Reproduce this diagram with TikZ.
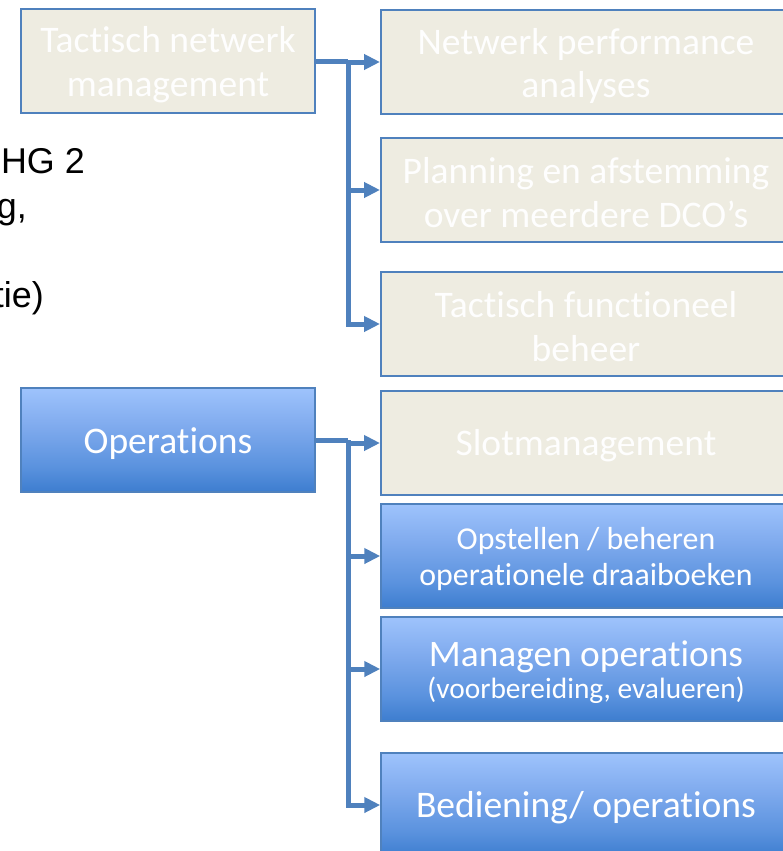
\documentclass[tikz,border=0pt]{standalone}
\usepackage{fontspec}
\setmainfont{Carlito}[RawFeature={-liga;-clig;-calt;-dlig}]
\newfontfamily\notefont{Liberation Sans}
\usetikzlibrary{arrows.meta}

\definecolor{frameblue}{HTML}{4F81BD}
\definecolor{linkblue}{HTML}{4F81BD}
\definecolor{paper}{HTML}{EEECE1}
\definecolor{opsbot}{HTML}{3D7DCF}
\definecolor{opslow}{HTML}{5A92DE}
\definecolor{opsmid}{HTML}{80ABEE}
\definecolor{opstop}{HTML}{9EC3FC}

% vertical gradient of the operational boxes (light at the top)
\pgfdeclareverticalshading{opsfill}{100bp}{%
  color(0bp)=(opsbot); color(25bp)=(opsbot); color(37bp)=(opslow);
  color(57bp)=(opsmid); color(75bp)=(opstop); color(100bp)=(opstop)}

\tikzset{
  bigtext/.style={font=\fontsize{37.7}{44}\selectfont},
  basebox/.style={rectangle, inner sep=0pt},
  tacbox/.style={basebox, draw=frameblue, line width=2bp, fill=paper},
  opsbox/.style={basebox, draw=frameblue, line width=1.5bp, shading=opsfill},
  leftbox/.style={minimum width=294bp, minimum height=104bp},
  rightbox/.style={minimum width=410bp, minimum height=104bp},
  boxtext/.style={inner sep=0pt, align=center, text=white},
  tactext/.style={boxtext, text=white!96!paper},
  link/.style={draw=linkblue, line width=5bp},
  linkarrow/.style={link, -{Triangle[length=16bp,width=15bp]}},
  notetext/.style={font=\notefont\fontsize{36}{44}\selectfont, anchor=base east,
    inner sep=0pt, text=black},
}

\begin{document}
\begin{tikzpicture}[x=1bp,y=-1bp]
\useasboundingbox (0,0) rectangle (783,851);
\clip (0,0) rectangle (783,851);
\fill[white] (0,0) rectangle (783,851);

% text partly outside the left edge
\node[notetext] (n1) at (85,173) {HG 2};
\node[notetext] (n2) at (27,218) {g,};
\node[notetext] (n3) at (44,307) {tie)};

% tactical level
\node[tacbox, leftbox] (tn) at (168,61) {};
\node[tactext, bigtext] (tn-t) at ([yshift=-4bp]tn.center) {Tactisch netwerk\\management};
\node[tacbox, rightbox] (r1) at (586,62) {};
\node[tactext, bigtext] (r1-t) at ([yshift=-4bp]r1.center) {Netwerk performance\\analyses};
\node[tacbox, rightbox] (r2) at (586,190) {};
\node[tactext, bigtext] (r2-t) at ([yshift=-3bp]r2.center) {Planning en afstemming\\over meerdere DCO’s};
\node[tacbox, rightbox] (r3) at (586,324) {};
\node[tactext, bigtext] (r3-t) at ([yshift=-3bp]r3.center) {Tactisch functioneel\\beheer};

% operational level
\node[opsbox, leftbox] (ops) at (168,440) {};
\node[boxtext, bigtext] (ops-t) at ([yshift=-4bp]ops.center) {Operations};
\node[tacbox, rightbox] (r4) at (586,443) {};
\node[tactext, bigtext] (r4-t) at ([yshift=-3bp]r4.center) {Slotmanagement};
\node[opsbox, rightbox] (r5) at (586,556) {};
\node[boxtext, font=\fontsize{32}{36}\selectfont] (r5-t) at ([yshift=-3bp]r5.center)
  {Opstellen / beheren\\operationele draaiboeken};
\node[opsbox, rightbox] (r6) at (586,669) {};
\node[boxtext, font=\fontsize{29.5}{32}\selectfont] (r6-t) at ([yshift=-3bp]r6.center)
  {{\fontsize{37.5}{40}\selectfont Managen operations}\\(voorbereiding, evalueren)};
\node[opsbox, rightbox] (r7) at (586,805) {};
\node[boxtext, bigtext] (r7-t) at ([yshift=-3bp]r7.center) {Bediening/ operations};

% connectors of the tactical group
\coordinate (b1) at (348,61);
\draw[link] (tn.east) -- (b1);
\draw[linkarrow] (b1) |- (r3.west);
\draw[linkarrow] (b1 |- r1.west) -- (r1.west);
\draw[linkarrow] (b1 |- r2.west) -- (r2.west);

% connectors of the operational group
\coordinate (b2) at (348,440);
\draw[link] (ops.east) -- (b2);
\draw[linkarrow] (b2) |- (r7.west);
\draw[linkarrow] (b2 |- r4.west) -- (r4.west);
\draw[linkarrow] (b2 |- r5.west) -- (r5.west);
\draw[linkarrow] (b2 |- r6.west) -- (r6.west);
\end{tikzpicture}
\end{document}
